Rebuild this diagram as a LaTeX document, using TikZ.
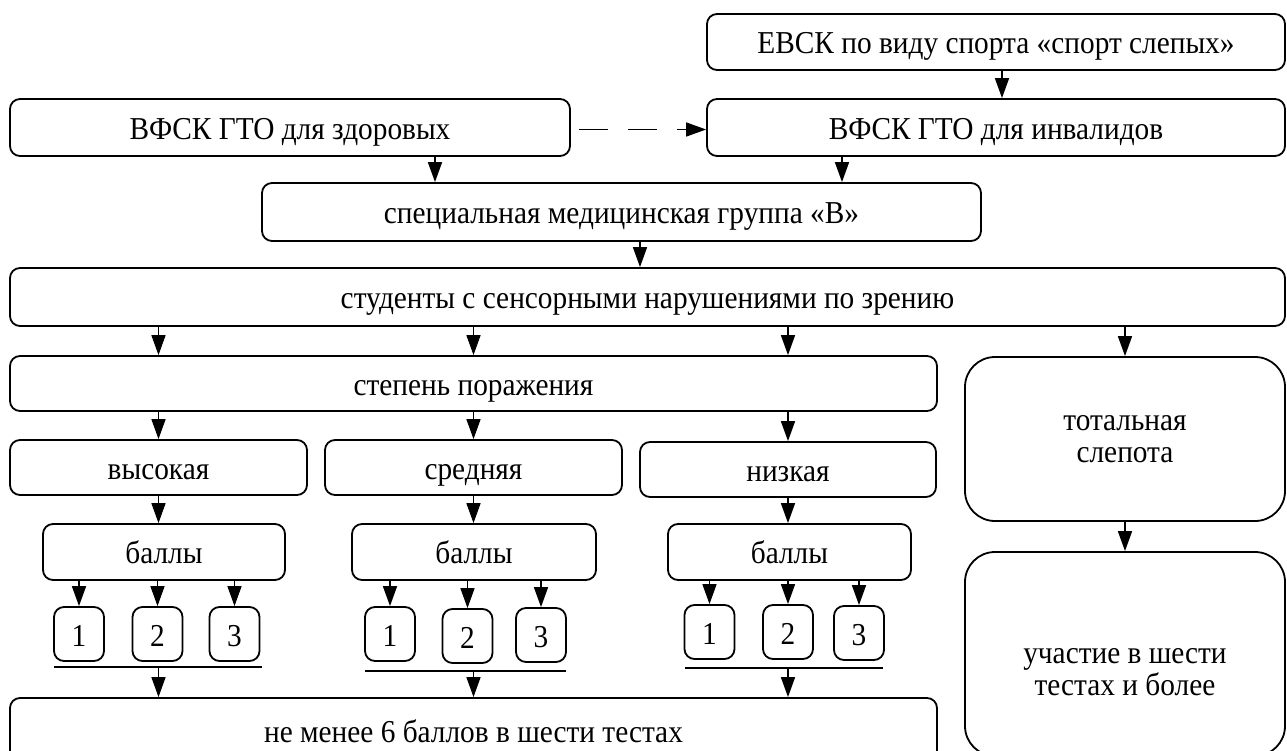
\documentclass[tikz,border=0pt]{standalone}
\usepackage{fontspec}
\setmainfont[FakeStretch=0.92]{Liberation Serif}
\usetikzlibrary{arrows.meta}
\begin{document}
\begin{tikzpicture}[x=1bp,y=-1bp,
  box/.style={draw, line width=1.8bp, rounded corners=10bp, inner sep=0pt,
    font=\fontsize{32}{32}\selectfont},
  tb/.style={box, text height=27bp, text depth=4bp},
  bigbox/.style={box, rounded corners=30bp, align=center},
  sz/.style 2 args={minimum width=#1bp, minimum height=#2bp},
  numbox/.style={box, sz={50}{54}, text height=25bp, text depth=0bp},
  arr/.style={line width=1.6bp, -{Triangle[length=20bp,width=14bp]}},
  uline/.style={line width=1.8bp},
  dasharr/.style={arr, dash pattern=on 29bp off 20bp}]
\useasboundingbox (0,0) rectangle (1287,751);

\node[tb, sz={578}{56}] (evsk) at (996,42) {ЕВСК по виду спорта «спорт слепых»};
\node[tb, sz={560}{57}] (hlth) at (290,127.5) {ВФСК ГТО для здоровых};
\node[tb, sz={578}{57}] (inv) at (996,127.5) {ВФСК ГТО для инвалидов};
\node[tb, sz={719}{58}] (spec) at (621.5,212) {специальная медицинская группа «В»};
\node[tb, sz={1275}{58}] (stud) at (647.5,297) {студенты с сенсорными нарушениями по зрению};
\node[tb, sz={927}{55}] (step) at (473.5,383.5) {степень поражения};
\node[tb, sz={297}{55}] (vys) at (158.5,467.5) {высокая};
\node[tb, sz={297}{55}] (sred) at (473.5,467.5) {средняя};
\node[tb, sz={296}{55}] (nizk) at (788,469.5) {низкая};
\node[tb, sz={242}{56}] (b1) at (164,552) {баллы};
\node[tb, sz={244}{56}] (b2) at (474,552) {баллы};
\node[tb, sz={243}{56}] (b3) at (789.5,552) {баллы};

\node[numbox] (n11) at (79,634) {1};
\node[numbox] (n12) at (157.5,634) {2};
\node[numbox] (n13) at (234.5,634) {3};
\node[numbox] (n21) at (390,634) {1};
\node[numbox] (n22) at (467.5,636) {2};
\node[numbox] (n23) at (541,635) {3};
\node[numbox] (n31) at (709.5,632) {1};
\node[numbox] (n32) at (788,632) {2};
\node[numbox] (n33) at (859,633) {3};

\node[tb, sz={927}{66}] (bot) at (473.5,731) {не менее 6 баллов в шести тестах};
\node[bigbox, sz={320}{164}] (tot) at (1125,439) {тотальная\\слепота};
\node[bigbox, sz={320}{204}, label={[font=\fontsize{32}{32}\selectfont, align=center, yshift=-18bp]center:участие в шести\\тестах и более}] (uch) at (1125,654) {};

% top arrows
\draw[arr] ([xshift=6bp]evsk.south) -- ([xshift=6bp]evsk.south |- inv.north);
\draw[dasharr] ([xshift=8bp,yshift=-2bp]hlth.east) -- ([yshift=-2bp]inv.west);
\draw[arr] ([xshift=145bp]hlth.south) -- ([xshift=145bp]hlth.south |- spec.north);
\draw[arr] ([xshift=-154bp]inv.south) -- ([xshift=-154bp]inv.south |- spec.north);
\draw[arr] ([xshift=18.5bp]spec.south) -- ([xshift=18.5bp]spec.south |- stud.north);

% students
\draw[arr] (vys.north |- stud.south) -- (vys.north |- step.north);
\draw[arr] (sred.north |- stud.south) -- (sred.north |- step.north);
\draw[arr] (nizk.north |- stud.south) -- (nizk.north |- step.north);
\draw[arr] (tot.north |- stud.south) -- (tot.north);

% degree
\draw[arr] (vys.north |- step.south) -- (vys.north);
\draw[arr] (sred.north |- step.south) -- (sred.north);
\draw[arr] (nizk.north |- step.south) -- (nizk.north);
\draw[arr] (vys.south) -- (vys.south |- b1.north);
\draw[arr] (sred.south) -- (sred.south |- b2.north);
\draw[arr] (nizk.south) -- (nizk.south |- b3.north);

% points
\foreach \b/\n in {b1/n11,b1/n12,b1/n13,b2/n21,b2/n22,b2/n23,b3/n31,b3/n32,b3/n33}
  \draw[arr] (\b.south -| \n.north) -- (\n.north);

% underlines
\coordinate (u1a) at (54,667);
\coordinate (u1b) at (262,667);
\coordinate (u2a) at (365,671);
\coordinate (u2b) at (566,671);
\coordinate (u3a) at (685,668);
\coordinate (u3b) at (883,668);
\draw[uline] (u1a) -- (u1b);
\draw[uline] (u2a) -- (u2b);
\draw[uline] (u3a) -- (u3b);
\draw[arr] (u1a -| vys.north) -- (vys.north |- bot.north);
\draw[arr] (u2a -| sred.north) -- (sred.north |- bot.north);
\draw[arr] (u3a -| nizk.north) -- (nizk.north |- bot.north);

\draw[arr] (tot.south) -- (uch.north);
\end{tikzpicture}
\end{document}
